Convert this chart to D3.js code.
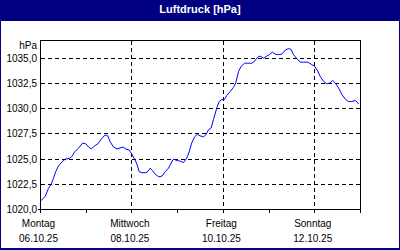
<!DOCTYPE html>
<html>
<head>
<meta charset="utf-8">
<script src="https://cdn.jsdelivr.net/npm/d3@7"></script>
<style>
html,body{margin:0;padding:0;background:#fff;}
svg{display:block;}
text{font-family:"Liberation Sans",Arial,sans-serif;}
</style>
</head>
<body>
<svg id="chart" width="400" height="250"></svg>
<script>
// ---- data ----
const title = "Luftdruck [hPa]";
const unitLabel = "hPa";
const startDate = new Date(2025, 9, 6, 0, 0);   // Montag 06.10.25
const endDate = new Date(2025, 9, 13, 0, 0);
const hours = [0,2.5,4.2,5.6,6.8,8.0,9.5,11.2,13.0,15.1,16.4,17.9,20.0,22.2,23.8,25.2,26.6,28.4,30.1,32.2,34.0,35.3,36.6,38.3,40.1,41.8,43.6,44.5,46.6,47.9,49.4,50.6,51.8,53.2,55.0,56.3,57.6,58.8,60.2,62.0,63.7,65.5,67.2,68.6,69.8,71.6,73.3,75.1,76.8,78.1,79.4,80.9,82.3,83.8,85.6,86.8,88.2,89.6,90.8,92.6,93.8,95.2,96.6,97.8,99.6,101.3,102.5,104.0,105.4,107.1,108.8,110.9,112.4,114.1,115.3,117.1,118.8,120.1,121.8,123.2,125.0,126.7,128.5,130.2,131.6,132.8,134.6,136.3,138.1,140.3,142.1,143.9,145.6,146.8,148.6,150.3,152.1,153.3,154.7,156.5,158.2,160.0,161.7,163.4,165.2,166.0,167.0];
const pressure = [1020.84,1021.3,1022.1,1022.5,1023.1,1023.75,1024.35,1024.7,1025.0,1025.05,1025.25,1025.7,1026.1,1026.6,1026.5,1026.2,1026.0,1026.3,1026.5,1027.05,1027.4,1027.3,1026.7,1026.2,1026.0,1026.1,1026.2,1026.0,1025.9,1025.5,1025.0,1024.5,1023.75,1023.65,1023.65,1023.75,1024.1,1023.85,1023.5,1023.25,1023.3,1023.75,1024.1,1024.6,1025.0,1024.85,1024.8,1024.65,1025.1,1025.75,1026.6,1027.2,1027.45,1027.3,1027.2,1027.4,1027.9,1028.1,1028.9,1030.1,1030.7,1030.9,1030.9,1031.3,1031.7,1032.1,1032.55,1033.7,1034.2,1034.5,1034.5,1034.5,1034.7,1035.1,1035.2,1035.0,1035.2,1035.35,1035.6,1035.4,1035.35,1035.4,1035.8,1035.95,1035.85,1035.35,1034.95,1034.6,1034.6,1034.6,1034.4,1034.2,1033.7,1033.2,1032.7,1032.45,1032.55,1032.8,1032.55,1032.05,1031.4,1030.95,1030.7,1030.7,1030.8,1030.7,1030.45];
const yTicks = [1020, 1022.5, 1025, 1027.5, 1030, 1032.5, 1035];
const yMin = 1020, yMax = 1036.75;
const labelDayIndex = [0, 2, 4, 6];
const labelDays = ["Montag", "Mittwoch", "Freitag", "Sonntag"];
const labelDates = ["06.10.25", "08.10.25", "10.10.25", "12.10.25"];

// ---- drawing ----
const W = 400, H = 250;
const svg = d3.select("#chart");
const navy = "#000080";
const L = 40.5, R = 360.5, T = 40.5, B = 209.5;

// frame
svg.append("rect").attr("x",0).attr("y",0).attr("width",W).attr("height",H).attr("fill",navy);
svg.append("rect").attr("x",1).attr("y",21).attr("width",W-2).attr("height",H-23).attr("fill","#fff");
svg.append("text").attr("x",W/2).attr("y",13).attr("text-anchor","middle")
  .attr("fill","#fff").attr("font-weight","bold").attr("font-size","11px").text(title);

const x = d3.scaleTime().domain([startDate, endDate]).range([L, R]);
const y = d3.scaleLinear().domain([yMin, yMax]).range([B, T]);
const crisp = v => Math.round(v - 0.5) + 0.5;

const data = hours.map((h, i) => ({t: new Date(startDate.getTime() + h * 3600e3), v: pressure[i]}));
const days = d3.timeDay.range(startDate, d3.timeDay.offset(endDate, 1));

// horizontal grid
svg.append("g").selectAll("line").data(yTicks.filter(v => v > yMin)).join("line")
  .attr("x1", L).attr("x2", R)
  .attr("y1", d => crisp(y(d))).attr("y2", d => crisp(y(d)))
  .attr("stroke", "#000").attr("stroke-dasharray", "4,3").attr("shape-rendering","crispEdges");

// vertical grid at labelled days (except first)
svg.append("g").selectAll("line").data(labelDayIndex.filter(i => i > 0)).join("line")
  .attr("x1", i => crisp(x(days[i]))).attr("x2", i => crisp(x(days[i])))
  .attr("y1", T).attr("y2", B)
  .attr("stroke", "#000").attr("stroke-dasharray", "4,3").attr("shape-rendering","crispEdges");

// plot box
svg.append("rect").attr("x", L).attr("y", T).attr("width", R - L).attr("height", B - T)
  .attr("fill","none").attr("stroke","#000").attr("shape-rendering","crispEdges");

// x ticks
svg.append("g").selectAll("line").data(days).join("line")
  .attr("x1", d => crisp(x(d))).attr("x2", d => crisp(x(d)))
  .attr("y1", B).attr("y2", B + 3)
  .attr("stroke","#000").attr("shape-rendering","crispEdges");
svg.append("line").attr("x1", L - 3).attr("x2", L).attr("y1", B).attr("y2", B)
  .attr("stroke","#000").attr("shape-rendering","crispEdges");

// x labels
const xl = svg.append("g").attr("font-size","10px").attr("fill","#000").attr("text-anchor","middle");
labelDayIndex.forEach((di, k) => {
  const px = x(days[di]) - 2;
  xl.append("text").attr("x", px).attr("y", 227).text(labelDays[k]);
  xl.append("text").attr("x", px).attr("y", 242).text(labelDates[k]);
});

// y labels
const fmt = v => v.toFixed(1).replace(".", ",");
const yl = svg.append("g").attr("font-size","10px").attr("fill","#000").attr("text-anchor","end");
yTicks.forEach(v => {
  yl.append("text").attr("x", 37).attr("y", crisp(y(v)) + 3.5).text(fmt(v));
});
yl.append("text").attr("x", 37).attr("y", 48.5).text(unitLabel);

// line
const line = d3.line().x(d => x(d.t)).y(d => y(d.v));
svg.append("path").datum(data).attr("d", line)
  .attr("fill","none").attr("stroke","#0000ff").attr("stroke-width",1);
</script>
</body>
</html>
